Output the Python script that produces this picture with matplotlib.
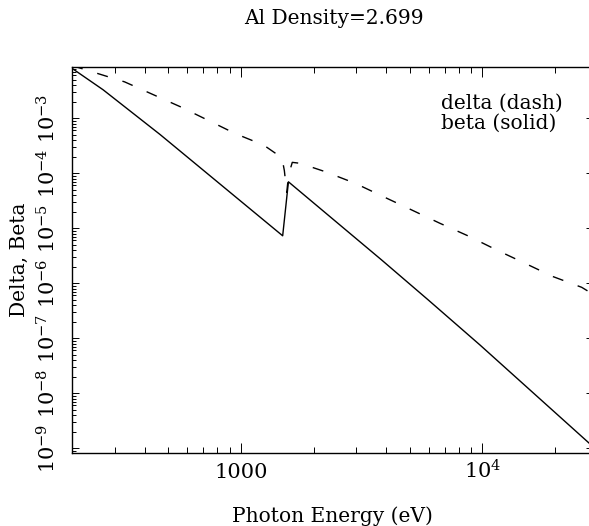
import matplotlib
matplotlib.use("Agg")
import matplotlib.pyplot as plt
from matplotlib.ticker import LogLocator, NullFormatter

# datos (energia en eV)
energia_beta = [200, 269, 463, 1490, 1574, 3828, 5970, 9772, 27600]
beta = [8.1e-3, 3.3e-3, 5.07e-4, 7.3e-6, 7.0e-5, 2.65e-6, 4.97e-7, 7.55e-8, 1.25e-9]

energia_delta = [200, 330, 562, 950, 1245, 1459, 1483, 1514, 1549, 1570, 1600,
                 1633, 1758, 2234, 2972, 3890, 5100, 6677, 8745, 11455, 15000,
                 19630, 25760, 27600]
delta = [9.1e-3, 4.6e-3, 1.62e-3, 5.25e-4, 3.24e-4, 2.0e-4, 1.82e-4, 1.12e-4,
         4.5e-5, 7.9e-5, 1.17e-4, 1.58e-4, 1.52e-4, 1.07e-4, 6.58e-5, 3.76e-5,
         2.15e-5, 1.23e-5, 7.24e-6, 4.03e-6, 2.31e-6, 1.32e-6, 8.45e-7, 7.03e-7]

xticks = [1000, 10000]
xtick_labels = ["1000", r"$10^{4}$"]
yticks = [1e-9, 1e-8, 1e-7, 1e-6, 1e-5, 1e-4, 1e-3]
ytick_labels = [r"$10^{-9}$", r"$10^{-8}$", r"$10^{-7}$", r"$10^{-6}$",
                r"$10^{-5}$", r"$10^{-4}$", r"$10^{-3}$"]

titulo = "Al Density=2.699"
leyenda = ["delta (dash)", "beta (solid)"]

plt.rcParams["font.family"] = ["DejaVu Serif"]
plt.rcParams["mathtext.fontset"] = "dejavuserif"
fs = 14.5
fs_ticks = 15

W, H = 589, 526
fig = plt.figure(figsize=(W / 100, H / 100), dpi=100)
# ejes: izquierda 72 px, derecha 593 px (fuera de la imagen), arriba 66.7, abajo 453.3
ax = fig.add_axes([72 / W, 1 - 453.3 / H, (593 - 72) / W, (453.3 - 66.7) / H])

ax.plot(energia_delta, delta, color="black", lw=1.0, linestyle=(0, (8, 11)))
ax.plot(energia_beta, beta, color="black", lw=1.0)

ax.set_xscale("log")
ax.set_yscale("log")
ax.set_xlim(200, 28700)
ax.set_ylim(8.1e-10, 8.67e-3)

ax.set_xticks(xticks)
ax.set_xticklabels(xtick_labels, fontsize=fs_ticks, va="baseline")
ax.xaxis.set_minor_locator(LogLocator(base=10, subs=range(2, 10), numticks=50))
ax.xaxis.set_minor_formatter(NullFormatter())
ax.set_yticks(yticks)
ax.set_yticklabels(ytick_labels, fontsize=fs_ticks, rotation=90, va="center")
ax.yaxis.set_minor_locator(LogLocator(base=10, subs=range(2, 10), numticks=50))
ax.yaxis.set_minor_formatter(NullFormatter())

ax.tick_params(axis="both", which="both", direction="in", top=True, right=True, width=0.7)
ax.tick_params(axis="x", which="major", length=7.2, pad=17.8)
ax.tick_params(axis="x", which="minor", length=4.3)
ax.tick_params(axis="y", which="major", length=4.7, pad=9)
ax.tick_params(axis="y", which="minor", length=3.1)
for s in ax.spines.values():
    s.set_linewidth(1.0)

ax.set_ylabel("Delta, Beta", fontsize=fs)
ax.yaxis.set_label_coords((29 - 72) / (593 - 72), 0.5)

fig.text(332 / W, 1 - 522 / H, "Photon Energy (eV)", fontsize=fs, ha="center", va="baseline")
fig.text(334 / W, 1 - 19 / H, titulo, fontsize=fs, ha="center", va="center")

fig.text(441 / W, 1 - 109 / H, leyenda[0], fontsize=fs, ha="left", va="baseline")
fig.text(441 / W, 1 - 129 / H, leyenda[1], fontsize=fs, ha="left", va="baseline")

fig.savefig("out.png", dpi=100)
